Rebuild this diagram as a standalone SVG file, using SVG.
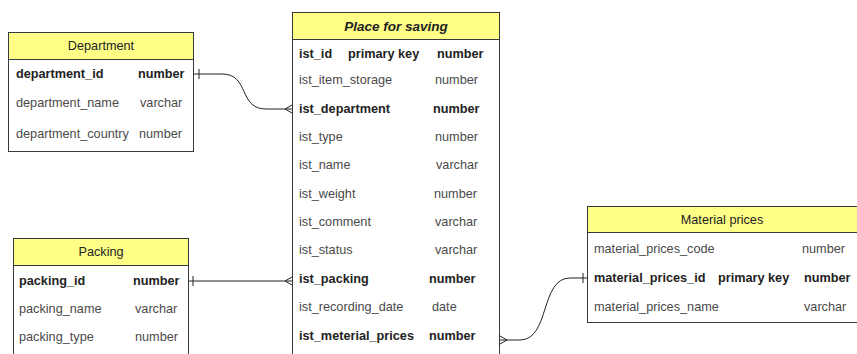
<svg xmlns="http://www.w3.org/2000/svg" width="857" height="354" viewBox="0 0 857 354">
<style>
.box{fill:#ffffff;stroke:#36393d;stroke-width:1}
.hdr{fill:#ffff88;stroke:#36393d;stroke-width:1}
text{font-family:"Liberation Sans",Arial,sans-serif;font-size:12.7px;fill:#4a4a4a}
.t{fill:#222;text-anchor:middle}
.ti{font-weight:bold;font-style:italic;font-size:13.5px}
.b{font-weight:bold;fill:#222}
.edge{fill:none;stroke:#222;stroke-width:1}
</style>
<rect width="857" height="354" fill="#ffffff"/>
<g id="connectors">
<path class="edge" d="M194,74 L222,74 C250,74 238,109 266,109 L292,109"/>
<path class="edge" d="M199,69 V79"/>
<path class="edge" d="M292,105 L285,109 L292,113"/>
<path class="edge" d="M188,281 L292,281"/>
<path class="edge" d="M193,276 V286"/>
<path class="edge" d="M292,277 L285,281 L292,285"/>
<path class="edge" d="M500,340 L520,340 C550,340 540,278 570,278 L587,278"/>
<path class="edge" d="M583,273 V283"/>
<path class="edge" d="M500,336 L507,340 L500,344"/>
</g>
<g id="department">
<rect class="box" x="8.5" y="32.5" width="185" height="119"/>
<rect class="hdr" x="8.5" y="32.5" width="185" height="27"/>
<text class="t" x="101" y="50">Department</text>
<text class="b" x="16" y="78">department_id</text>
<text class="b" x="138" y="78">number</text>
<text x="16" y="107">department_name</text>
<text x="140" y="107">varchar</text>
<text x="16" y="138">department_country</text>
<text x="139" y="138">number</text>
</g>
<g id="place_for_saving">
<rect class="box" x="292.5" y="12.5" width="207" height="350"/>
<rect class="hdr" x="292.5" y="12.5" width="207" height="27"/>
<text class="t ti" x="396" y="31">Place for saving</text>
<text class="b" x="299" y="58">ist_id</text>
<text class="b" x="348" y="58">primary key</text>
<text class="b" x="437" y="58">number</text>
<text x="299" y="84">ist_item_storage</text>
<text x="435" y="84">number</text>
<text class="b" x="299" y="113">ist_department</text>
<text class="b" x="433" y="113">number</text>
<text x="299" y="141">ist_type</text>
<text x="435" y="141">number</text>
<text x="299" y="169">ist_name</text>
<text x="436" y="169">varchar</text>
<text x="299" y="198">ist_weight</text>
<text x="434" y="198">number</text>
<text x="299" y="226">ist_comment</text>
<text x="435" y="226">varchar</text>
<text x="299" y="254">ist_status</text>
<text x="435" y="254">varchar</text>
<text class="b" x="299" y="283">ist_packing</text>
<text class="b" x="429" y="283">number</text>
<text x="299" y="311">ist_recording_date</text>
<text x="432" y="311">date</text>
<text class="b" x="299" y="340">ist_meterial_prices</text>
<text class="b" x="429" y="340">number</text>
</g>
<g id="packing">
<rect class="box" x="13.5" y="238.5" width="175" height="130"/>
<rect class="hdr" x="13.5" y="238.5" width="175" height="27"/>
<text class="t" x="101" y="256">Packing</text>
<text class="b" x="19" y="285">packing_id</text>
<text class="b" x="133" y="285">number</text>
<text x="19" y="313">packing_name</text>
<text x="135" y="313">varchar</text>
<text x="19" y="341">packing_type</text>
<text x="135" y="341">number</text>
</g>
<g id="material_prices">
<rect class="box" x="587.5" y="206.5" width="280" height="116"/>
<rect class="hdr" x="587.5" y="206.5" width="280" height="26"/>
<text class="t" x="722" y="224">Material prices</text>
<text x="594" y="253">material_prices_code</text>
<text x="802" y="253">number</text>
<text class="b" x="594" y="282">material_prices_id</text>
<text class="b" x="718" y="282">primary key</text>
<text class="b" x="804" y="282">number</text>
<text x="594" y="311">material_prices_name</text>
<text x="804" y="311">varchar</text>
</g>
</svg>
